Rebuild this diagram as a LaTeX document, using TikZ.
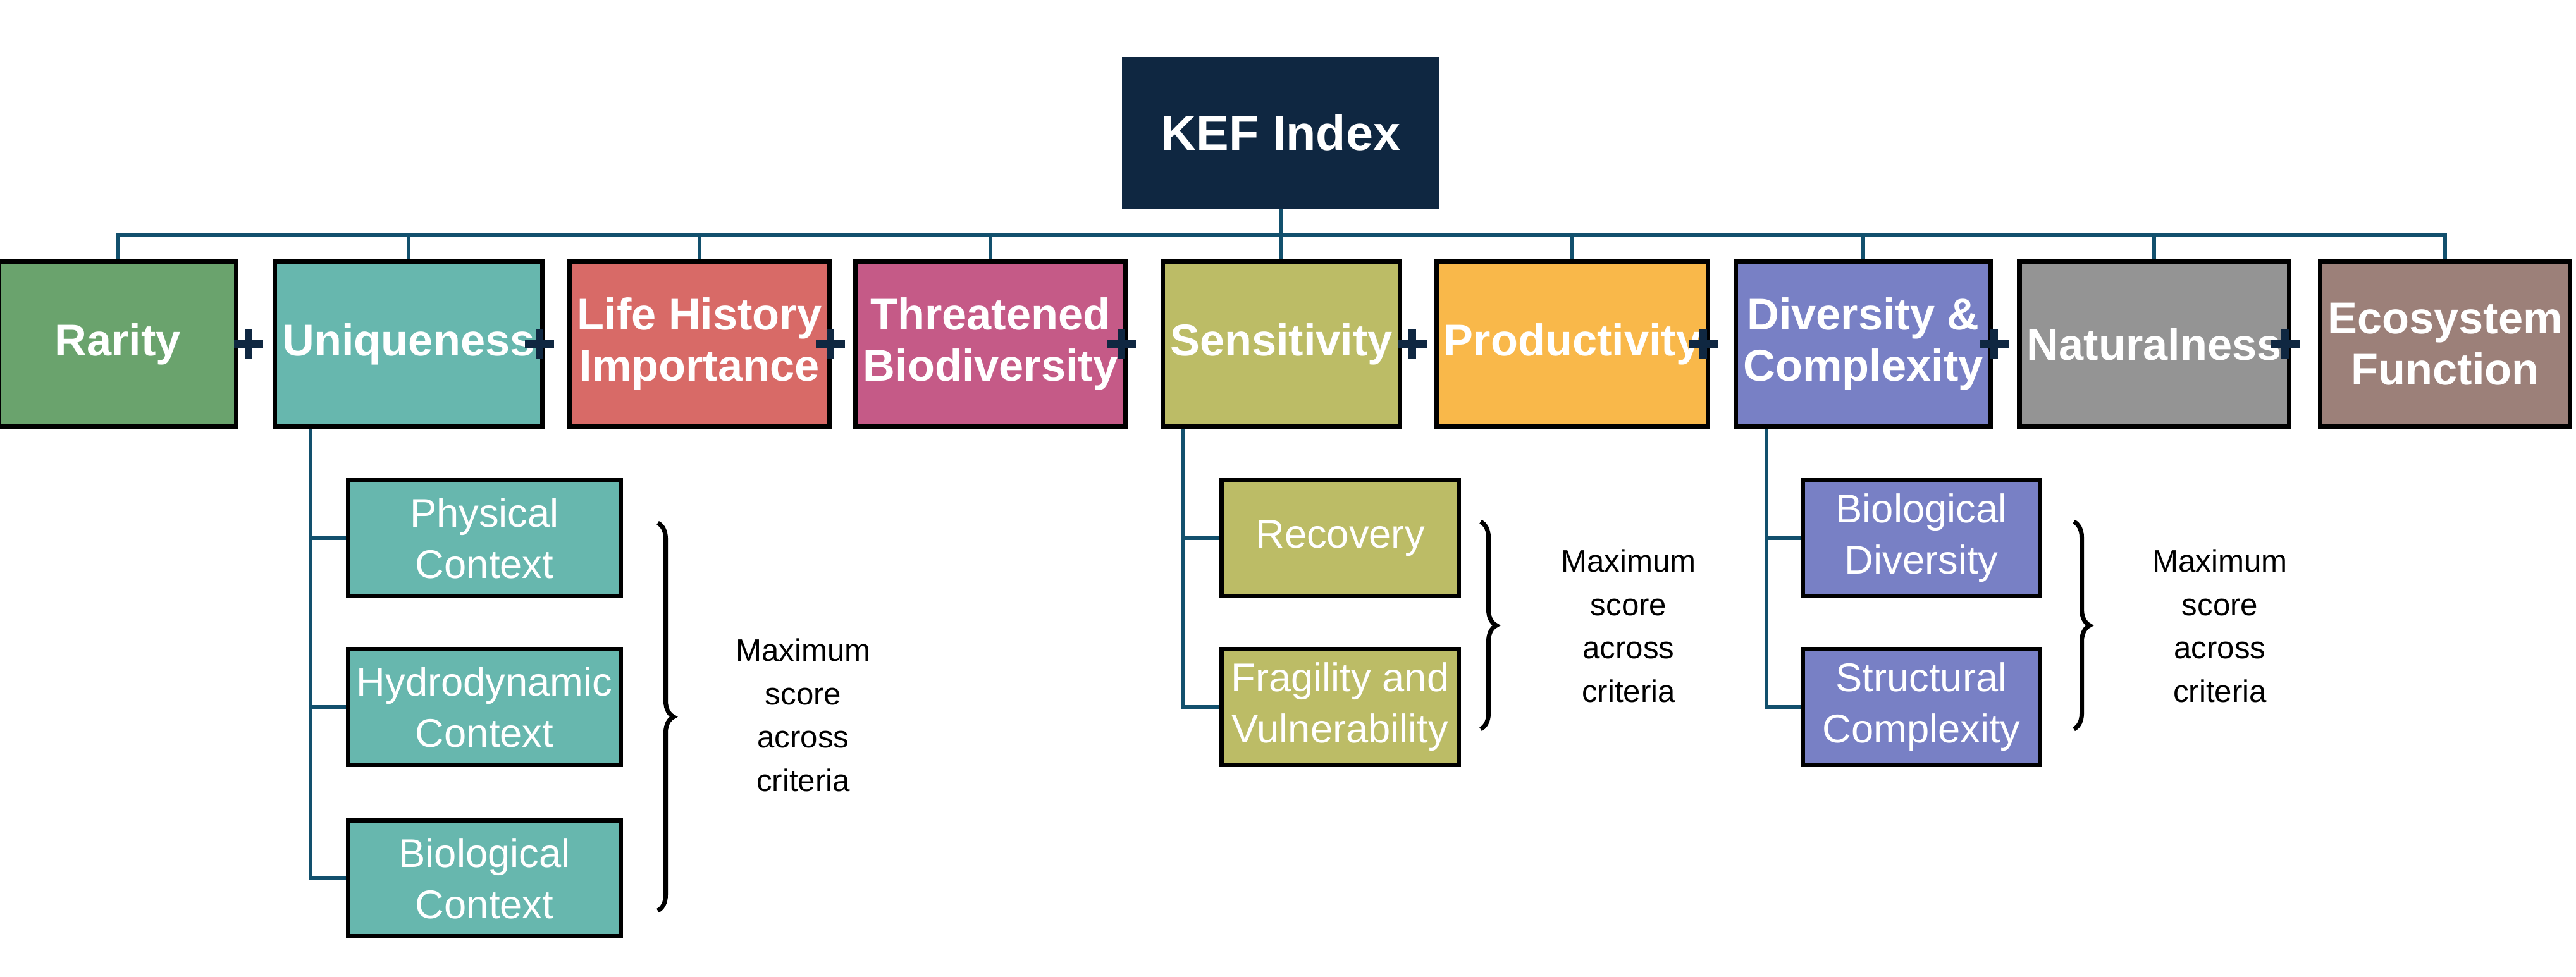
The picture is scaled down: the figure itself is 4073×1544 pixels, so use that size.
\documentclass[tikz,border=0pt]{standalone}
\usepackage{fontspec}
\setmainfont{Liberation Sans}
\usetikzlibrary{decorations.pathreplacing}
\definecolor{navy}{HTML}{0F2741}
\definecolor{linkc}{HTML}{12506D}
\definecolor{cRar}{HTML}{6AA36D}
\definecolor{cUni}{HTML}{67B7AE}
\definecolor{cLif}{HTML}{D86A67}
\definecolor{cThr}{HTML}{C55A87}
\definecolor{cSen}{HTML}{BCBC66}
\definecolor{cPro}{HTML}{F9B84A}
\definecolor{cDiv}{HTML}{7880C5}
\definecolor{cNat}{HTML}{949494}
\definecolor{cEco}{HTML}{9C8079}
\tikzset{
    crit/.style={draw=black, line width=2pt, text=white, align=center, minimum width=3.75cm, minimum height=2.61cm, font=\fontsize{20}{23}\selectfont\bfseries},
    sub/.style={draw=black, line width=2pt, text=white, align=center, minimum height=1.83cm, font=\fontsize{18}{23}\selectfont},
    link/.style={draw=linkc, line width=1.5pt},
    plus/.style={draw=navy, line width=0.12cm},
    brc/.style={draw=black, line width=2pt, decorate, decoration={brace, amplitude=0.25cm}},
    note/.style={align=center, font=\fontsize{14}{19.5}\selectfont}
}
\begin{document}
\begin{tikzpicture}[x=0.01cm, y=-0.01cm]
    \useasboundingbox (0,0) rectangle (4073,1544);

    % Index
    \node[fill=navy, text=white, minimum width=5.02cm, minimum height=2.39cm, font=\fontsize{22}{26}\selectfont\bfseries] (kef) at (2025,210) {KEF Index};
    \coordinate (bus) at (2025,372);
    \draw[link] (kef.south) -- (bus);

    % Criteria
    \foreach \i/\name/\col/\txt in {0/rar/cRar/Rarity, 1/uni/cUni/Uniqueness, 2/lif/cLif/Life History\\Importance, 3/thr/cThr/Threatened\\Biodiversity, 4/sen/cSen/Sensitivity, 5/pro/cPro/Productivity, 6/div/cDiv/Diversity \&\\Complexity, 7/nat/cNat/Naturalness, 8/eco/cEco/Ecosystem\\Function}{
        \node[crit, fill=\col] (\name) at (186+460*\i,544) {\txt};
        \draw[link] (\name.north) |- (bus);
    }
    \foreach \i in {0,...,7}{
        \draw[plus] (393+460*\i,544) ++(-23,0) -- ++(46,0) ++(-23,-23) -- ++(0,46);
    }

    % Uniqueness sub-criteria
    \node[sub, fill=cUni, minimum width=4.30cm] (phys) at (766,851) {Physical\\Context};
    \node[sub, fill=cUni, minimum width=4.30cm] (hydro) at (766,1118) {Hydrodynamic\\Context};
    \node[sub, fill=cUni, minimum width=4.30cm] (bioc) at (766,1389) {Biological\\Context};
    \draw[link] ([xshift=-1.55cm]uni.south) |- (bioc.west);
    \draw[link] ([xshift=-1.55cm]uni.south) |- (phys.west);
    \draw[link] ([xshift=-1.55cm]uni.south) |- (hydro.west);
    \draw[brc] (1040,827) -- (1040,1440);
    \node[note] (maxu) at (1270,1131) {Maximum\\score\\across\\criteria};

    % Sensitivity sub-criteria
    \node[sub, fill=cSen, minimum width=3.75cm] (rec) at (2119,851) {Recovery};
    \node[sub, fill=cSen, minimum width=3.75cm] (frag) at (2119,1118) {Fragility and\\Vulnerability};
    \draw[link] ([xshift=-1.55cm]sen.south) |- (frag.west);
    \draw[link] ([xshift=-1.55cm]sen.south) |- (rec.west);
    \draw[brc] (2341,825) -- (2341,1153);
    \node[note] (maxs) at (2575,990) {Maximum\\score\\across\\criteria};

    % Diversity sub-criteria
    \node[sub, fill=cDiv, minimum width=3.75cm] (biod) at (3038,851) {Biological\\Diversity};
    \node[sub, fill=cDiv, minimum width=3.75cm] (struc) at (3038,1118) {Structural\\Complexity};
    \draw[link] ([xshift=-1.53cm]div.south) |- (struc.west);
    \draw[link] ([xshift=-1.53cm]div.south) |- (biod.west);
    \draw[brc] (3279,825) -- (3279,1153);
    \node[note] (maxd) at (3510,990) {Maximum\\score\\across\\criteria};
\end{tikzpicture}
\end{document}
